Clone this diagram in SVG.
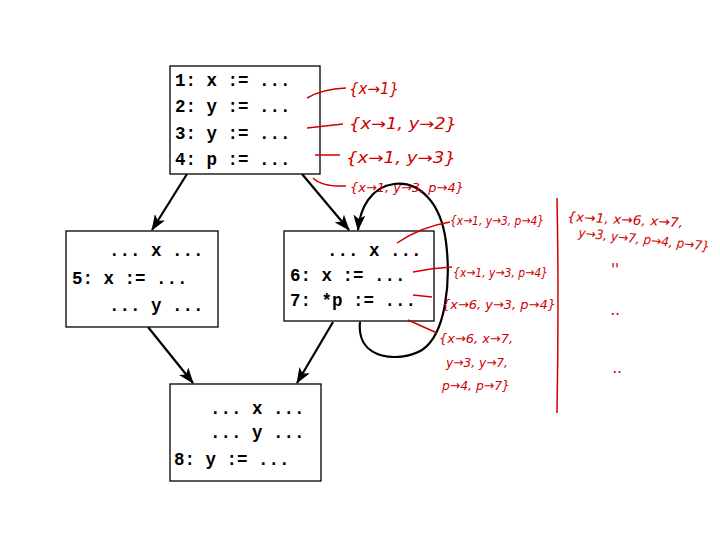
<svg xmlns="http://www.w3.org/2000/svg" width="720" height="540" viewBox="0 0 720 540">
<defs>
<marker id="ah" markerUnits="userSpaceOnUse" markerWidth="16" markerHeight="12" refX="15" refY="6" orient="auto">
<path d="M0,0 L16,6 L0,12 L4,6 z" fill="#000"/>
</marker>
<style>
.box{fill:#fff;stroke:#000;stroke-width:1.3}
.code{font-family:"Liberation Mono","Courier New",monospace;font-weight:bold;font-size:17.5px;fill:#000;white-space:pre}
.edge{fill:none;stroke:#000;stroke-width:2.2}
.hw{font-family:"DejaVu Sans",sans-serif;font-style:italic;font-size:15px;fill:#d00000}
.sm{font-size:13px}
.lead{fill:none;stroke:#d00000;stroke-width:1.5}
</style>
</defs>
<rect width="720" height="540" fill="#fff"/>
<g id="connectors">
<path class="edge" d="M187,174 L152,230" marker-end="url(#ah)"/>
<path class="edge" d="M302,174 L349,230" marker-end="url(#ah)"/>
<path class="edge" d="M148,327 L193,383" marker-end="url(#ah)"/>
<path class="edge" d="M333,322 L297,383" marker-end="url(#ah)"/>
<path class="edge" d="M360,322 C356,362 402,362 422,350 C446,334 451,282 446,242 C441,203 420,181 394,184 C371,187 360,208 358,230" marker-end="url(#ah)"/>
</g>
<g id="n1">
<rect class="box" x="170" y="66" width="150" height="108"/>
<text class="code" x="175" y="86">1: x := ...</text>
<text class="code" x="175" y="112">2: y := ...</text>
<text class="code" x="175" y="139">3: y := ...</text>
<text class="code" x="175" y="165">4: p := ...</text>
</g>
<g id="n5">
<rect class="box" x="66" y="231" width="152" height="96"/>
<text class="code" x="109" y="256">... x ...</text>
<text class="code" x="72" y="284">5: x := ...</text>
<text class="code" x="109" y="311">... y ...</text>
</g>
<g id="n6">
<rect class="box" x="284" y="231" width="150" height="90"/>
<text class="code" x="327" y="256">... x ...</text>
<text class="code" x="290" y="281">6: x := ...</text>
<text class="code" x="290" y="306">7: *p := ...</text>
</g>
<g id="n8">
<rect class="box" x="170" y="384" width="151" height="97"/>
<text class="code" x="210" y="414">... x ...</text>
<text class="code" x="210" y="438">... y ...</text>
<text class="code" x="174" y="465">8: y := ...</text>
</g>
<g id="annotations">
<path class="lead" d="M307,98 Q322,89 346,88"/>
<text class="hw" x="349" y="94" textLength="50" lengthAdjust="spacingAndGlyphs">{x→1}</text>
<path class="lead" d="M307,128 L343,124"/>
<text class="hw" x="349" y="129" textLength="108" lengthAdjust="spacingAndGlyphs">{x→1, y→2}</text>
<path class="lead" d="M315,155 L340,155"/>
<text class="hw" x="346" y="163" textLength="110" lengthAdjust="spacingAndGlyphs">{x→1, y→3}</text>
<path class="lead" d="M313,178 Q322,187 346,186"/>
<text class="hw sm" x="350" y="192" textLength="114" lengthAdjust="spacingAndGlyphs">{x→1, y→3, p→4}</text>
<path class="lead" d="M397,243 Q420,227 450,222"/>
<text class="hw sm" x="450" y="225" textLength="94" lengthAdjust="spacingAndGlyphs">{x→1, y→3, p→4}</text>
<path class="lead" d="M413,272 Q432,268 452,267"/>
<text class="hw sm" x="453" y="277" textLength="95" lengthAdjust="spacingAndGlyphs">{x→1, y→3, p→4}</text>
<path class="lead" d="M413,295 L432,297"/>
<text class="hw sm" x="442" y="309" textLength="114" lengthAdjust="spacingAndGlyphs">{x→6, y→3, p→4}</text>
<path class="lead" d="M408,320 Q426,328 437,333"/>
<text class="hw sm" x="439" y="343" textLength="74" lengthAdjust="spacingAndGlyphs">{x→6, x→7,</text>
<text class="hw sm" x="446" y="367" textLength="62" lengthAdjust="spacingAndGlyphs">y→3, y→7,</text>
<text class="hw sm" x="442" y="390" textLength="68" lengthAdjust="spacingAndGlyphs">p→4, p→7}</text>
<path class="lead" d="M557,198 Q559,300 557,413" stroke-width="2"/>
<text class="hw sm" x="567" y="221" textLength="116" lengthAdjust="spacingAndGlyphs" transform="rotate(3 567 221)">{x→1, x→6, x→7,</text>
<text class="hw sm" x="578" y="237" textLength="132" lengthAdjust="spacingAndGlyphs" transform="rotate(6 578 237)">y→3, y→7, p→4, p→7}</text>
<text class="hw" x="611" y="275">''</text>
<text class="hw" x="611" y="315">..</text>
<text class="hw" x="613" y="373">..</text>
</g>
</svg>
